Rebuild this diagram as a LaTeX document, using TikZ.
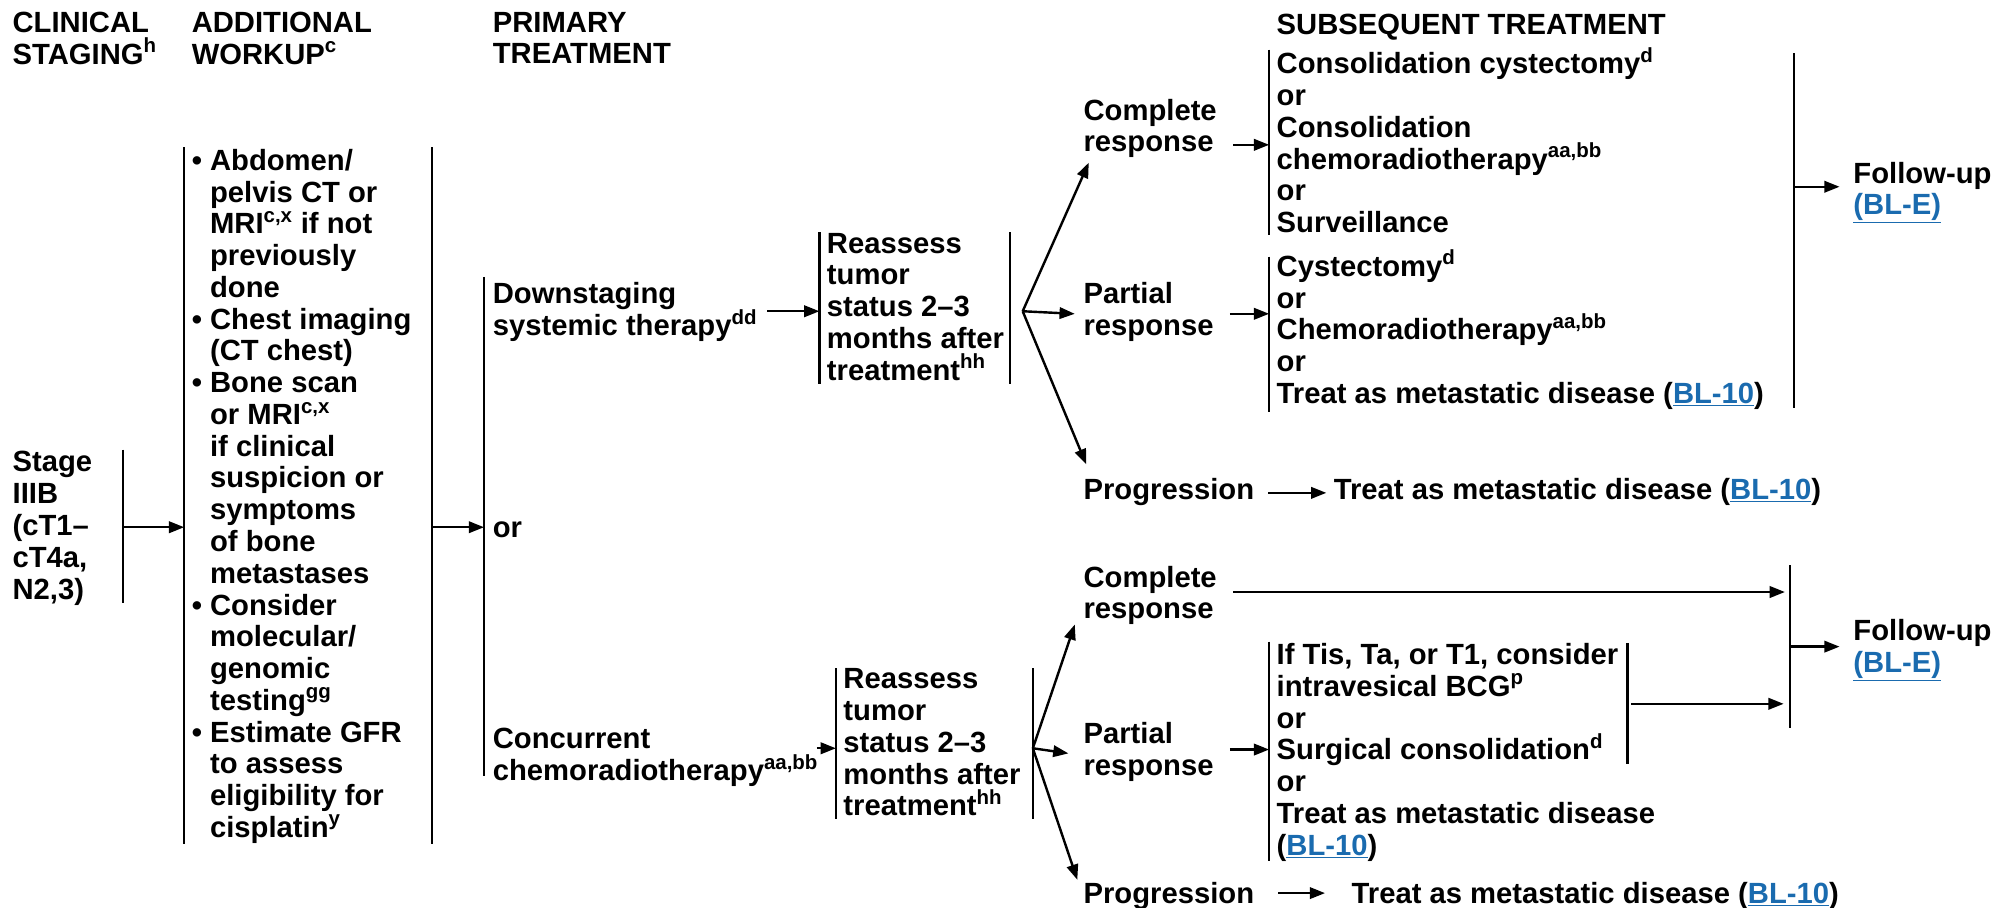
\documentclass[tikz,border=0pt]{standalone}
\usepackage{fontspec}
\setmainfont{Liberation Sans}
\usetikzlibrary{arrows.meta}
\definecolor{linkblue}{RGB}{26,107,175}
\newcommand{\fnm}[1]{\smash{\textsuperscript{#1}}}
\newcommand{\lnk}[1]{\textcolor{linkblue}{\underline{#1}}}
\newcommand{\ind}{\hphantom{\textbullet\ }}

\begin{document}
\begin{tikzpicture}[x=1pt,y=-1pt,line width=1.9pt,
  txt/.style={anchor=north west,inner sep=0pt,align=left,yshift=17.5pt,
    font=\fontsize{23}{25}\selectfont\bfseries,execute at begin node=\strut},
  arr/.style={-{Triangle[length=12pt,width=9pt]}}]
\useasboundingbox (0,0) rectangle (1568,714);
% headers
\node[txt] (hstage) at (9,26) {CLINICAL\\STAGING\fnm{h}};
\node[txt] (hwork) at (150,26) {ADDITIONAL\\WORKUP\fnm{c}};
\node[txt] (hprim) at (387,26) {PRIMARY\\TREATMENT};
\node[txt] (hsub) at (1004,26) {SUBSEQUENT TREATMENT};
%
\node[txt] (stage) at (9,372) {Stage\\IIIB\\(cT1--\\cT4a,\\N2,3)};
\coordinate (stT) at (97,354);
\coordinate (stB) at (97,475);
\coordinate (stM) at (97,415);
\draw (stT)--(stB);
%
\node[txt] (workup) at (150,134) {\textbullet\ Abdomen/\\\ind pelvis CT or\\\ind MRI\fnm{c,x} if not\\\ind previously\\\ind done\\
  \textbullet\ Chest imaging\\\ind (CT chest)\\
  \textbullet\ Bone scan\\\ind or MRI\fnm{c,x}\\\ind if clinical\\\ind suspicion or\\\ind symptoms\\\ind of bone\\\ind metastases\\
  \textbullet\ Consider\\\ind molecular/\\\ind genomic\\\ind testing\fnm{gg}\\
  \textbullet\ Estimate GFR\\\ind to assess\\\ind eligibility for\\\ind cisplatin\fnm{y}};
\coordinate (wkT) at (145,116);
\coordinate (wkB) at (145,664);
\coordinate (wkT2) at (340,116);
\coordinate (wkB2) at (340,664);
\draw (wkT)--(wkB);
\draw (wkT2)--(wkB2);
\draw[arr] (stM)--(stM -| wkT);
%
\coordinate (prT) at (381,218);
\coordinate (prB) at (381,611);
\draw (prT)--(prB);
\draw[arr] (stM -| wkT2)--(stM -| prT);
\node[txt] (down) at (387,239) {Downstaging\\systemic therapy\fnm{dd}};
\node[txt] (orp) at (387,422) {or};
\node[txt] (conc) at (387,590) {Concurrent\\chemoradiotherapy\fnm{aa,bb}};
%
% upper branch
\node[txt] (reas1) at (650,200) {Reassess\\tumor\\status 2--3\\months after\\treatment\fnm{hh}};
\coordinate (r1T) at (645,183);
\coordinate (r1B) at (645,302);
\coordinate (r1T2) at (795,183);
\coordinate (r1B2) at (795,302);
\coordinate (r1M) at (645,245);
\coordinate (r1o) at (805,245);
\draw (r1T)--(r1B);
\draw (r1T2)--(r1B2);
\draw[arr,shorten <=7pt] (r1M -| down.east)--(r1M);
\node[txt] (cr1) at (852,94.5) {Complete\\response};
\node[txt] (pr1) at (852,239) {Partial\\response};
\node[txt] (pg1) at (852,392) {Progression};
\draw[arr] (r1o)--([xshift=5pt]cr1.south west);
\draw[arr] (r1o)--([xshift=-6pt]pr1.west);
\draw[arr] (r1o)--([xshift=3pt,yshift=9pt]pg1.north west);
%
\node[txt] (sub1) at (1004,58) {Consolidation cystectomy\fnm{d}\\or\\Consolidation\\chemoradiotherapy\fnm{aa,bb}\\or\\Surveillance};
\node[txt] (sub2) at (1004,218) {Cystectomy\fnm{d}\\or\\Chemoradiotherapy\fnm{aa,bb}\\or\\Treat as metastatic disease (\lnk{BL-10})};
\coordinate (s1T) at (999,39);
\coordinate (s1B) at (999,185);
\coordinate (s1M) at (999,114);
\coordinate (s2T) at (999,202);
\coordinate (s2B) at (999,324);
\coordinate (s2M) at (999,247);
\draw (s1T)--(s1B);
\draw (s2T)--(s2B);
\draw[arr,shorten <=12pt] (s1M -| cr1.east)--(s1M);
\draw[arr,shorten <=12pt] (s2M -| pr1.east)--(s2M);
\node[txt] (tm1) at (1049,392) {Treat as metastatic disease (\lnk{BL-10})};
\draw[arr,shorten <=10pt,shorten >=5pt] (pg1.east)--(tm1.west);
%
\coordinate (f1T) at (1412,42);
\coordinate (f1B) at (1412,321);
\coordinate (f1M) at (1412,147);
\draw (f1T)--(f1B);
\node[txt] (fu1) at (1458,144) {Follow-up\\\lnk{(BL-E)}};
\draw[arr,shorten >=10pt] (f1M)--(f1M -| fu1.west);
%
% lower branch
\node[txt] (reas2) at (663,543) {Reassess\\tumor\\status 2--3\\months after\\treatment\fnm{hh}};
\coordinate (r2T) at (658,526);
\coordinate (r2B) at (658,645);
\coordinate (r2T2) at (813,526);
\coordinate (r2B2) at (813,645);
\coordinate (r2M) at (658,589);
\coordinate (r2o) at (813,589);
\draw (r2T)--(r2B);
\draw (r2T2)--(r2B2);
\draw[arr,shorten <=-2pt] (r2M -| conc.east)--(r2M);
\node[txt] (cr2) at (852,462) {Complete\\response};
\node[txt] (pr2) at (852,585) {Partial\\response};
\node[txt] (pg2) at (852,710) {Progression};
\draw[arr] (r2o)--([xshift=-6pt,yshift=4pt]cr2.south west);
\draw[arr] (r2o)--([xshift=-11pt]pr2.west);
\draw[arr] (r2o)--([xshift=-4pt]pg2.north west);
%
\node[txt] (sub3) at (1004,523) {If Tis, Ta, or T1, consider\\intravesical BCG\fnm{p}\\or\\Surgical consolidation\fnm{d}\\or\\Treat as metastatic disease\\(\lnk{BL-10})};
\coordinate (s3T) at (999,505);
\coordinate (s3B) at (999,678);
\coordinate (s3M) at (999,590);
\coordinate (s4T) at (1281,506);
\coordinate (s4B) at (1281,601);
\coordinate (s4M) at (1284,554);
\draw (s3T)--(s3B);
\draw (s4T)--(s4B);
\draw[arr,shorten <=12pt] (s3M -| pr2.east)--(s3M);
\coordinate (f2T) at (1409,445);
\coordinate (f2B) at (1409,573);
\coordinate (f2M) at (1409,509);
\draw (f2T)--(f2B);
\draw[arr,shorten <=12pt,shorten >=4pt] (cr2.east |- 0,466)--(f2T |- 0,466);
\draw[arr,shorten >=5pt] (s4M)--(s4M -| f2T);
\node[txt] (fu2) at (1458,504) {Follow-up\\\lnk{(BL-E)}};
\draw[arr,shorten >=10pt] (f2M)--(f2M -| fu2.west);
\node[txt] (tm2) at (1063,710) {Treat as metastatic disease (\lnk{BL-10})};
\coordinate (pg2a) at (1006,703);
\draw[arr,shorten >=20pt] (pg2a)--(pg2a -| tm2.west);
\end{tikzpicture}
\end{document}
